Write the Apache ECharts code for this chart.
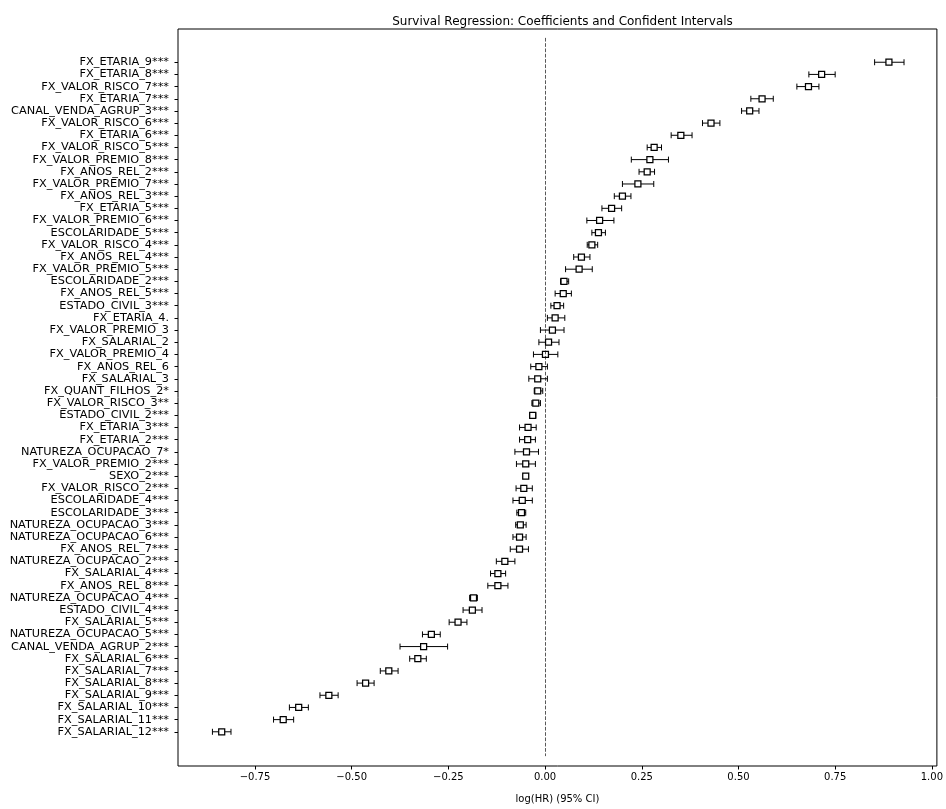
<!DOCTYPE html>
<html>
<head>
<meta charset="utf-8">
<script src="https://cdn.jsdelivr.net/npm/echarts@6/dist/echarts.min.js"></script>
<style>
  html, body { margin: 0; padding: 0; background: #fff; }
  #chart { width: 946px; height: 809px; }
</style>
</head>
<body>
<div id="chart"></div>
<script>
// Covariates, listed top to bottom (sorted by coefficient)
const covariates = [
  'FX_ETARIA_9***', 'FX_ETARIA_8***', 'FX_VALOR_RISCO_7***', 'FX_ETARIA_7***',
  'CANAL_VENDA_AGRUP_3***', 'FX_VALOR_RISCO_6***', 'FX_ETARIA_6***', 'FX_VALOR_RISCO_5***',
  'FX_VALOR_PREMIO_8***', 'FX_ANOS_REL_2***', 'FX_VALOR_PREMIO_7***', 'FX_ANOS_REL_3***',
  'FX_ETARIA_5***', 'FX_VALOR_PREMIO_6***', 'ESCOLARIDADE_5***', 'FX_VALOR_RISCO_4***',
  'FX_ANOS_REL_4***', 'FX_VALOR_PREMIO_5***', 'ESCOLARIDADE_2***', 'FX_ANOS_REL_5***',
  'ESTADO_CIVIL_3***', 'FX_ETARIA_4.', 'FX_VALOR_PREMIO_3', 'FX_SALARIAL_2',
  'FX_VALOR_PREMIO_4', 'FX_ANOS_REL_6', 'FX_SALARIAL_3', 'FX_QUANT_FILHOS_2*',
  'FX_VALOR_RISCO_3**', 'ESTADO_CIVIL_2***', 'FX_ETARIA_3***', 'FX_ETARIA_2***',
  'NATUREZA_OCUPACAO_7*', 'FX_VALOR_PREMIO_2***', 'SEXO_2***', 'FX_VALOR_RISCO_2***',
  'ESCOLARIDADE_4***', 'ESCOLARIDADE_3***', 'NATUREZA_OCUPACAO_3***', 'NATUREZA_OCUPACAO_6***',
  'FX_ANOS_REL_7***', 'NATUREZA_OCUPACAO_2***', 'FX_SALARIAL_4***', 'FX_ANOS_REL_8***',
  'NATUREZA_OCUPACAO_4***', 'ESTADO_CIVIL_4***', 'FX_SALARIAL_5***', 'NATUREZA_OCUPACAO_5***',
  'CANAL_VENDA_AGRUP_2***', 'FX_SALARIAL_6***', 'FX_SALARIAL_7***', 'FX_SALARIAL_8***',
  'FX_SALARIAL_9***', 'FX_SALARIAL_10***', 'FX_SALARIAL_11***', 'FX_SALARIAL_12***'
];

// log(HR) point estimates
const coef = [
  0.889, 0.715, 0.681, 0.561, 0.529, 0.429, 0.351, 0.282,
  0.271, 0.264, 0.240, 0.200, 0.172, 0.141, 0.138, 0.121,
  0.094, 0.088, 0.049, 0.047, 0.031, 0.026, 0.019, 0.009,
  0.001, -0.016, -0.019, -0.019, -0.024, -0.032, -0.044, -0.045,
  -0.048, -0.050, -0.050, -0.055, -0.059, -0.061, -0.064, -0.066,
  -0.066, -0.104, -0.122, -0.122, -0.185, -0.188, -0.225, -0.294,
  -0.314, -0.329, -0.404, -0.464, -0.559, -0.637, -0.677, -0.836
];

// Lower 95% bounds
const lower = [
  0.852, 0.682, 0.651, 0.532, 0.508, 0.407, 0.326, 0.264,
  0.223, 0.243, 0.200, 0.179, 0.147, 0.108, 0.121, 0.109,
  0.074, 0.053, 0.040, 0.026, 0.015, 0.006, -0.012, -0.016,
  -0.030, -0.037, -0.042, -0.028, -0.034, -0.040, -0.066, -0.066,
  -0.078, -0.074, -0.056, -0.075, -0.083, -0.073, -0.076, -0.083,
  -0.090, -0.126, -0.141, -0.148, -0.195, -0.212, -0.248, -0.317,
  -0.375, -0.350, -0.426, -0.486, -0.582, -0.661, -0.702, -0.860
];

// Upper 95% bounds
const upper = [
  0.928, 0.750, 0.708, 0.590, 0.553, 0.452, 0.380, 0.301,
  0.319, 0.283, 0.281, 0.222, 0.198, 0.178, 0.156, 0.136,
  0.116, 0.122, 0.061, 0.068, 0.048, 0.051, 0.049, 0.036,
  0.033, 0.006, 0.006, -0.006, -0.012, -0.024, -0.023, -0.025,
  -0.017, -0.025, -0.044, -0.033, -0.033, -0.050, -0.049, -0.049,
  -0.043, -0.078, -0.102, -0.096, -0.175, -0.163, -0.202, -0.271,
  -0.252, -0.307, -0.380, -0.442, -0.535, -0.612, -0.650, -0.812
];

const xTicks = [-0.75, -0.5, -0.25, 0, 0.25, 0.5, 0.75, 1.0];
const rowIndex = covariates.map((_, i) => i);

const FONT = 'DejaVu Sans';

// Square marker with horizontal error bar and caps
function renderItem(params, api) {
  const row = api.value(3);
  const pLo = api.coord([api.value(0), row]);
  const pHi = api.coord([api.value(1), row]);
  const pC = api.coord([api.value(2), row]);
  const y = pC[1];
  const cap = 3;
  const half = 3;
  const stroke = { stroke: '#000', lineWidth: 1 };
  return {
    type: 'group',
    children: [
      { type: 'line', shape: { x1: pLo[0], y1: y, x2: pHi[0], y2: y }, style: stroke },
      { type: 'line', shape: { x1: pLo[0], y1: y - cap, x2: pLo[0], y2: y + cap }, style: stroke },
      { type: 'line', shape: { x1: pHi[0], y1: y - cap, x2: pHi[0], y2: y + cap }, style: stroke },
      {
        type: 'rect',
        shape: { x: pC[0] - half, y: y - half, width: half * 2, height: half * 2 },
        style: { fill: '#fff', stroke: '#000', lineWidth: 1.25 }
      }
    ]
  };
}

const chart = echarts.init(document.getElementById('chart'), null, { renderer: 'canvas' });

chart.setOption({
  animation: false,
  backgroundColor: '#fff',
  title: {
    text: 'Survival Regression: Coefficients and Confident Intervals',
    left: 557.5,
    top: 11,
    textAlign: 'center',
    textStyle: { fontFamily: FONT, fontSize: 12, fontWeight: 'normal', color: '#000' }
  },
  grid: {
    left: 178, right: 9, top: 29, bottom: 37,
    show: true, borderColor: '#000', borderWidth: 1, backgroundColor: 'transparent'
  },
  xAxis: {
    type: 'value',
    position: 'bottom',
    min: -0.949,
    max: 1.013,
    axisLine: { show: false, onZero: false },
    splitLine: { show: false },
    axisTick: { customValues: xTicks, length: 3.5, lineStyle: { color: '#000', width: 1 } },
    axisLabel: {
      customValues: xTicks,
      margin: 6,
      fontFamily: FONT,
      fontSize: 10,
      color: '#000',
      formatter: v => v.toFixed(2).replace('-', '\u2212')
    },
    name: 'log(HR) (95% CI)',
    nameLocation: 'middle',
    nameGap: 28,
    nameTextStyle: { fontFamily: FONT, fontSize: 10, color: '#000' }
  },
  yAxis: {
    type: 'value',
    position: 'left',
    inverse: true,
    min: -2.73,
    max: 57.81,
    axisLine: { show: false, onZero: false },
    splitLine: { show: false },
    axisTick: { customValues: rowIndex, length: 3.5, lineStyle: { color: '#000', width: 1 } },
    axisLabel: {
      customValues: rowIndex,
      margin: 9,
      fontFamily: FONT,
      fontSize: 11.3,
      color: '#000',
      formatter: v => covariates[v]
    }
  },
  series: [
    {
      type: 'custom',
      renderItem: renderItem,
      data: covariates.map((_, i) => [lower[i], upper[i], coef[i], i]),
      encode: { x: [0, 1, 2], y: 3 },
      silent: true,
      z: 3
    },
    {
      type: 'line',
      data: [],
      silent: true,
      markLine: {
        silent: true,
        symbol: 'none',
        label: { show: false },
        lineStyle: { type: [3.7, 1.6], color: '#000', opacity: 0.65, width: 1 },
        data: [[{ coord: [0, -2] }, { coord: [0, 57] }]]
      }
    }
  ]
});
</script>
</body>
</html>
